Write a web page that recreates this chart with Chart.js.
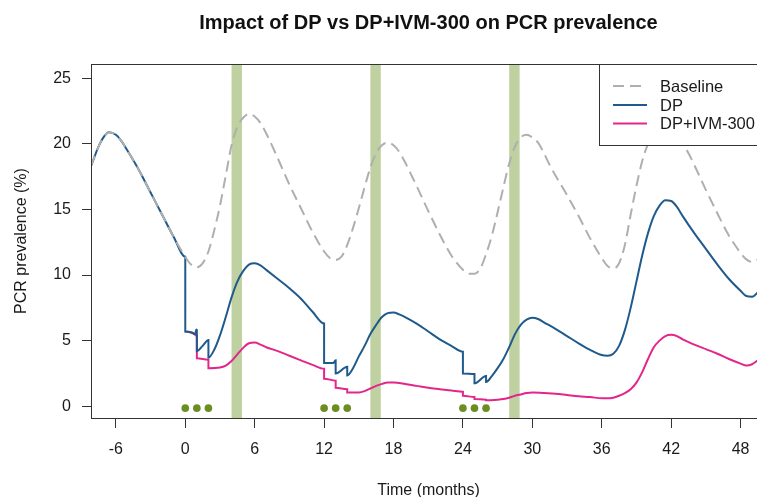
<!DOCTYPE html>
<html><head><meta charset="utf-8">
<script src="https://cdn.jsdelivr.net/npm/chart.js@4.4.1/dist/chart.umd.min.js"></script>
<style>html,body{margin:0;padding:0;overflow:hidden;background:#fff}#wrap{width:780px;height:497px}</style>
</head><body><div id="wrap"><canvas id="c" width="780" height="497"></canvas></div>
<script>
const chartTitle = 'Impact of DP vs DP+IVM-300 on PCR prevalence';
const xTitle = 'Time (months)';
const yTitle = 'PCR prevalence (%)';
const seriesNames = ['Baseline', 'DP', 'DP+IVM-300'];
const xTicks = [-6, 0, 6, 12, 18, 24, 30, 36, 42, 48];
const yTicks = [0, 5, 10, 15, 20, 25];

// shared pre-intervention period (all scenarios identical before month 0)
const preX = [-8.15, -7.5, -7, -6.6, -6, -5.5, -5, -4, -3, -2, -1, 0];
const preY = [18.3, 19.8, 20.6, 20.9, 20.7, 20.2, 19.5, 18.0, 16.3, 14.6, 12.9, 11.4];

const baseX = [0.5, 1, 1.5, 2, 2.5, 3, 3.5, 4, 4.5, 5, 5.5, 6, 6.5, 7, 8, 9, 10, 11, 12, 12.5, 13, 13.5, 14, 14.5, 15, 15.5, 16, 16.5, 17, 17.5, 18, 18.5, 19, 19.5, 20, 21, 22, 23, 24, 24.5, 25, 25.5, 26, 26.5, 27, 27.5, 28, 28.5, 29, 29.5, 30, 30.5, 31, 31.5, 32, 33, 34, 35, 36, 36.5, 37, 37.5, 38, 38.5, 39, 39.5, 40, 40.5, 41, 41.5, 42, 42.5, 43, 43.5, 44, 45, 46, 47, 48, 48.5, 49, 49.5, 50.2];
const baseY = [10.8, 10.6, 10.9, 11.8, 13.4, 15.3, 17.6, 19.9, 21.3, 22.0, 22.3, 22.1, 21.6, 20.8, 18.9, 16.9, 15.1, 13.3, 11.8, 11.3, 11.15, 11.4, 12.3, 13.6, 15.1, 16.7, 18.2, 19.3, 19.9, 20.1, 19.9, 19.4, 18.6, 17.7, 16.8, 14.9, 13.1, 11.5, 10.4, 10.1, 10.1, 10.5, 11.6, 13.0, 14.8, 16.7, 18.5, 19.8, 20.5, 20.7, 20.5, 20.1, 19.3, 18.4, 17.6, 16.1, 14.5, 12.8, 11.3, 10.7, 10.5, 10.9, 12.3, 14.6, 16.8, 18.7, 20.0, 20.8, 21.2, 21.3, 21.1, 20.6, 20.0, 19.3, 18.4, 16.5, 14.7, 13.0, 11.7, 11.2, 11.0, 11.2, 11.9];

const dpX = [0, 0.6, 0.85, 0.95, 1, 1, 1.5, 2, 2, 2.5, 3, 3.5, 4, 4.5, 5, 5.5, 6, 6.5, 7, 8, 9, 10, 11, 12, 12, 12.8, 13, 13, 14, 14, 14.5, 15, 15.5, 16, 16.5, 17, 17.5, 18, 18.5, 19, 20, 21, 22, 23, 24, 24, 25, 25, 26, 26, 26.5, 27, 27.5, 28, 28.5, 29, 29.5, 30, 30.5, 31, 32, 33, 34, 35, 36, 36.5, 37, 37.5, 38, 38.5, 39, 39.5, 40, 40.5, 41, 41.5, 42, 42.5, 43, 44, 45, 46, 47, 48, 48.5, 49, 49.5, 50.2];
const dpY = [5.7, 5.6, 5.5, 5.85, 5.8, 4.2, 4.6, 5.05, 3.7, 4.3, 5.4, 6.8, 8.3, 9.5, 10.3, 10.8, 10.9, 10.75, 10.4, 9.7, 9.0, 8.2, 7.2, 6.3, 3.3, 3.3, 3.5, 2.5, 3.0, 2.35, 2.9, 3.8, 4.6, 5.5, 6.2, 6.8, 7.1, 7.15, 7.0, 6.8, 6.3, 5.7, 5.1, 4.6, 4.15, 2.5, 2.45, 1.75, 2.3, 1.85, 2.3, 2.9, 3.6, 4.5, 5.5, 6.2, 6.6, 6.75, 6.65, 6.4, 5.9, 5.35, 4.8, 4.3, 3.9, 3.85, 4.0, 4.6, 5.8, 7.5, 9.5, 11.5, 13.2, 14.5, 15.3, 15.7, 15.65, 15.2, 14.5, 13.2, 12.0, 10.8, 9.7, 8.8, 8.4, 8.35, 8.7, 9.3];

// DP+IVM-300 after month 0 (identical to DP before and hidden beneath it)
const ivmX = [0, 0.6, 0.85, 1, 1, 2, 2, 3, 3.5, 4, 4.5, 5, 5.5, 6, 6.5, 7, 8, 9, 10, 11, 12, 12, 13, 13, 14, 14, 15, 15.5, 16, 16.5, 17, 17.5, 18, 19, 20, 21, 22, 23, 24, 24, 25, 25, 26, 26, 27, 27.5, 28, 28.5, 29, 29.5, 30, 31, 32, 33, 34, 35, 36, 36.5, 37, 37.5, 38, 38.5, 39, 39.5, 40, 40.5, 41, 41.5, 42, 42.5, 43, 44, 45, 46, 47, 48, 48.5, 49, 49.5, 50.2];
const ivmY = [5.7, 5.6, 5.45, 5.35, 3.65, 3.55, 2.9, 2.95, 3.1, 3.45, 3.95, 4.45, 4.8, 4.85, 4.7, 4.5, 4.2, 3.85, 3.5, 3.15, 2.85, 2.1, 1.95, 1.4, 1.3, 1.05, 1.05, 1.15, 1.35, 1.55, 1.7, 1.8, 1.8, 1.7, 1.55, 1.4, 1.3, 1.2, 1.1, 0.8, 0.7, 0.55, 0.5, 0.45, 0.5, 0.55, 0.65, 0.8, 0.9, 1.0, 1.05, 1.0, 0.95, 0.85, 0.75, 0.7, 0.6, 0.6, 0.65, 0.8, 1.0, 1.3, 1.8, 2.6, 3.6, 4.5, 5.0, 5.35, 5.45, 5.35, 5.1, 4.7, 4.35, 4.0, 3.6, 3.25, 3.1, 3.2, 3.5, 3.9];

// ivermectin campaign windows (months) and DP dose rounds
const campaignStart = [4, 16, 28];
const campaignEnd = [4.9, 16.9, 28.9];
const doseMonths = [0, 1, 2, 12, 13, 14, 24, 25, 26];
const doseMarkY = [-0.15, -0.15, -0.15, -0.15, -0.15, -0.15, -0.15, -0.15, -0.15];

const colors = { base: '#afafaf', dp: '#1f5a8c', ivm: '#e2268b', band: '#bfd1a1', dose: '#6b8e23', axis: '#333333', text: '#1a1a1a' };
const FONT = 'Liberation Sans, Arial, sans-serif';

const pts = (xs, ys) => xs.map((x, i) => ({ x: x, y: ys[i] }));

const decor = {
  id: 'decor',
  beforeDatasetsDraw(chart) {
    const { ctx, chartArea: a, scales: { x } } = chart;
    ctx.save();
    ctx.fillStyle = colors.band;
    campaignStart.forEach((s, i) => {
      const x0 = x.getPixelForValue(s), x1 = x.getPixelForValue(campaignEnd[i]);
      ctx.fillRect(x0, a.top, x1 - x0, a.bottom - a.top);
    });
    ctx.restore();
  },
  afterDatasetsDraw(chart) {
    const { ctx, chartArea: a } = chart;
    ctx.save();
    ctx.strokeStyle = colors.axis; ctx.lineWidth = 1;
    ctx.strokeRect(Math.round(a.left) + 0.5, Math.round(a.top) + 0.5, Math.round(a.right - a.left), Math.round(a.bottom - a.top));
    // legend
    const lx = 599, ly = Math.round(a.top), lr = Math.round(a.right), lb = 145;
    ctx.fillStyle = '#fff';
    ctx.fillRect(lx, ly, lr - lx, lb - ly);
    ctx.strokeRect(lx + 0.5, ly + 0.5, lr - lx, lb - ly);
    const items = [
      { c: colors.base, d: [11, 6] },
      { c: colors.dp, d: [] },
      { c: colors.ivm, d: [] }
    ];
    const rows = [86, 105, 123.5];
    ctx.font = '16.5px ' + FONT; ctx.textBaseline = 'middle'; ctx.textAlign = 'left';
    items.forEach((it, i) => {
      ctx.beginPath(); ctx.setLineDash(it.d); ctx.strokeStyle = it.c; ctx.lineWidth = 2;
      ctx.moveTo(613, rows[i]); ctx.lineTo(647, rows[i]); ctx.stroke();
      ctx.setLineDash([]);
      ctx.fillStyle = colors.text; ctx.fillText(seriesNames[i], 660, rows[i] + 1);
    });
    ctx.restore();
  },
  afterDraw(chart) {
    const { ctx, chartArea: a } = chart;
    ctx.save();
    ctx.font = 'bold 20px ' + FONT; ctx.fillStyle = '#111'; ctx.textAlign = 'center'; ctx.textBaseline = 'alphabetic';
    ctx.fillText(chartTitle, (a.left + a.right) / 2, 29);
    ctx.restore();
  }
};

const lineCommon = { borderWidth: 2, pointRadius: 0, fill: false, cubicInterpolationMode: 'monotone' };

new Chart(document.getElementById('c').getContext('2d'), {
  type: 'line',
  data: {
    datasets: [
      Object.assign({ label: seriesNames[0], data: pts(preX.concat(baseX), preY.concat(baseY)), borderColor: colors.base, borderDash: [11, 6], order: 1 }, lineCommon),
      Object.assign({ label: seriesNames[1], data: pts(preX.concat(dpX), preY.concat(dpY)), borderColor: colors.dp, order: 2 }, lineCommon),
      Object.assign({ label: seriesNames[2], data: pts(ivmX, ivmY), borderColor: colors.ivm, order: 3 }, lineCommon),
      { label: 'doses', type: 'scatter', data: pts(doseMonths, doseMarkY), pointRadius: 3.8, pointBackgroundColor: colors.dose, pointBorderWidth: 0, backgroundColor: colors.dose, borderColor: colors.dose, showLine: false, order: 0 }
    ]
  },
  options: {
    responsive: false, animation: false, devicePixelRatio: 1,
    layout: { padding: { left: 0, top: 64, right: 780 - 766, bottom: 0 } },
    plugins: { legend: { display: false }, tooltip: { enabled: false }, title: { display: false } },
    scales: {
      x: {
        type: 'linear', min: -8.15, max: 50.2,
        afterBuildTicks: s => { s.ticks = xTicks.map(v => ({ value: v })); },
        afterFit: s => { s.height = 79; },
        grid: { drawOnChartArea: false, drawTicks: true, tickLength: 10, color: colors.axis, tickColor: colors.axis },
        border: { display: false },
        ticks: { font: { family: FONT, size: 16 }, color: colors.text, padding: 12, maxRotation: 0, autoSkip: false },
        title: { display: true, text: xTitle, font: { family: FONT, size: 16, lineHeight: 1 }, color: colors.text, padding: { top: 0, bottom: -2 } }
      },
      y: {
        type: 'linear', min: -0.9, max: 26.1,
        afterBuildTicks: s => { s.ticks = yTicks.map(v => ({ value: v })); },
        afterFit: s => { s.width = 91; },
        grid: { drawOnChartArea: false, drawTicks: true, tickLength: 9, color: colors.axis, tickColor: colors.axis },
        border: { display: false },
        ticks: { font: { family: FONT, size: 16 }, color: colors.text, padding: 11, autoSkip: false },
        title: { display: true, text: yTitle, font: { family: FONT, size: 16, lineHeight: 1.2 }, color: colors.text, padding: { top: 12, bottom: 0 } }
      }
    }
  },
  plugins: [decor]
});
</script>
</body></html>
